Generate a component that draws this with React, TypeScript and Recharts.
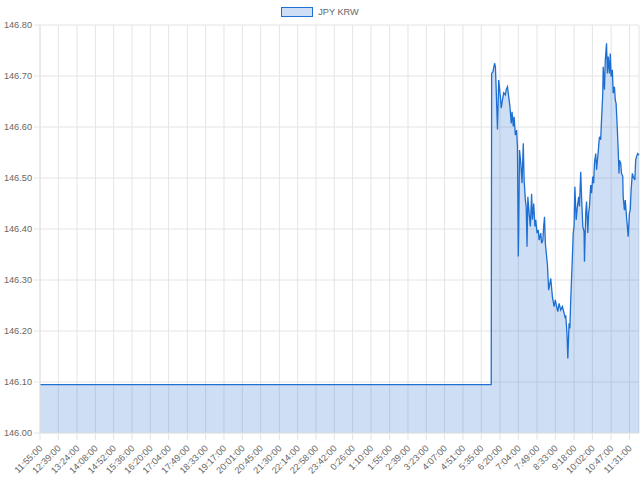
import { AreaChart, Area, XAxis, YAxis, CartesianGrid, Legend } from "recharts";

// minutes after 11:55:00, and the JPY/KRW rate at each of them
const minutes = [
  0, 1084, 1085, 1088, 1092, 1094, 1096, 1099, 1102, 1106, 1108, 1111, 1114, 1118, 1120, 1123, 1126, 1129,
  1132, 1134, 1137, 1139, 1142, 1145, 1147, 1149, 1150, 1152, 1155, 1158, 1161, 1163, 1166, 1168, 1170, 1172,
  1175, 1178, 1181, 1183, 1186, 1189, 1191, 1194, 1197, 1199, 1203, 1205, 1208, 1210, 1212, 1214, 1219, 1222,
  1227, 1231, 1235, 1238, 1241, 1244, 1247, 1251, 1255, 1259, 1262, 1263, 1266, 1268, 1271, 1273, 1275, 1279,
  1281, 1283, 1285, 1288, 1291, 1294, 1296, 1299, 1301, 1304, 1307, 1308, 1311, 1313, 1316, 1318, 1320, 1323,
  1325, 1328, 1330, 1332, 1335, 1337, 1340, 1342, 1344, 1347, 1349, 1352, 1353, 1356, 1358, 1361, 1363, 1365,
  1368, 1370, 1372, 1375, 1377, 1380, 1382, 1384, 1387, 1389, 1391, 1392, 1395, 1397, 1400, 1401, 1404, 1406,
  1409, 1411, 1413, 1416, 1418, 1420, 1423, 1425, 1429, 1431, 1433, 1436, 1439,
];
const rates = [
  146.095, 146.095, 146.705, 146.708, 146.725, 146.718, 146.672, 146.595, 146.692, 146.659, 146.637, 146.653,
  146.667, 146.663, 146.673, 146.679, 146.659, 146.64, 146.607, 146.63, 146.601, 146.62, 146.584, 146.594,
  146.561, 146.346, 146.395, 146.555, 146.529, 146.49, 146.568, 146.496, 146.457, 146.444, 146.365, 146.463,
  146.431, 146.405, 146.469, 146.418, 146.45, 146.405, 146.418, 146.392, 146.398, 146.378, 146.392, 146.372,
  146.378, 146.405, 146.424, 146.372, 146.33, 146.28, 146.303, 146.267, 146.248, 146.261, 146.248, 146.238,
  146.254, 146.241, 146.248, 146.235, 146.225, 146.231, 146.195, 146.146, 146.215, 146.205, 146.261, 146.346,
  146.392, 146.405, 146.483, 146.418, 146.444, 146.463, 146.444, 146.512, 146.463, 146.405, 146.395, 146.336,
  146.431, 146.454, 146.392, 146.431, 146.444, 146.486, 146.47, 146.503, 146.49, 146.529, 146.548, 146.516,
  146.542, 146.561, 146.581, 146.575, 146.614, 146.666, 146.718, 146.673, 146.731, 146.764, 146.705, 146.738,
  146.705, 146.744, 146.699, 146.712, 146.666, 146.679, 146.653, 146.646, 146.594, 146.555, 146.509, 146.535,
  146.529, 146.509, 146.503, 146.463, 146.437, 146.457, 146.424, 146.405, 146.385, 146.431, 146.437, 146.476,
  146.509, 146.503, 146.496, 146.535, 146.542, 146.548, 146.545,
];

const tickMinutes = [
  0, 44, 89, 133, 177, 221, 265, 309, 354, 398, 442, 486, 530, 575, 619, 663, 707, 751, 795, 840, 884, 928,
  972, 1016, 1060, 1105, 1149, 1194, 1238, 1283, 1327, 1372, 1416,
];
const tickLabels = [
  "11:55:00", "12:39:00", "13:24:00", "14:08:00", "14:52:00", "15:36:00", "16:20:00", "17:04:00", "17:49:00",
  "18:33:00", "19:17:00", "20:01:00", "20:45:00", "21:30:00", "22:14:00", "22:58:00", "23:42:00", "0:26:00",
  "1:10:00", "1:55:00", "2:39:00", "3:23:00", "4:07:00", "4:51:00", "5:35:00", "6:20:00", "7:04:00", "7:49:00",
  "8:33:00", "9:18:00", "10:02:00", "10:47:00", "11:31:00",
];
const rateTicks = [146.0, 146.1, 146.2, 146.3, 146.4, 146.5, 146.6, 146.7, 146.8];

const seriesName = "JPY KRW";
const lineColor = "#1e6fd2";
const font = "'Liberation Sans', Arial, sans-serif";
const gridColor = "#e4e4e4";

const data = minutes.map((m, i) => ({ m, rate: rates[i] }));

function TimeTick({ x, y, payload }: any) {
  const i = tickMinutes.indexOf(payload.value);
  return (
    <text
      transform={`translate(${x + 3},${y + 9}) rotate(-45)`}
      textAnchor="end"
      fontSize={9.2}
      fontFamily={font}
      fill="#666"
    >
      {tickLabels[i]}
    </text>
  );
}

function LegendBox() {
  return (
    <div style={{ display: "flex", justifyContent: "center", alignItems: "center", fontFamily: font, fontSize: 9.2, color: "#666" }}>
      <span
        style={{
          display: "inline-block",
          width: 30,
          height: 8,
          border: `1px solid ${lineColor}`,
          background: "rgba(30,111,210,0.22)",
          marginRight: 5,
        }}
      />
      <span>{seriesName}</span>
    </div>
  );
}

export default function App() {
  return (
    <div style={{ position: "absolute", left: 0, top: 0, width: 640, height: 480, background: "#fff" }}>
      <AreaChart width={640} height={480} data={data} margin={{ top: 25, right: 1, bottom: 0, left: 0 }}>
        <CartesianGrid stroke={gridColor} />
        <XAxis
          dataKey="m"
          type="number"
          domain={[0, 1439]}
          ticks={tickMinutes}
          interval={0}
          height={47}
          tickSize={7}
          tickMargin={0}
          tick={<TimeTick />}
          axisLine={{ stroke: gridColor }}
          tickLine={{ stroke: gridColor }}
        />
        <YAxis
          type="number"
          domain={[146, 146.8]}
          ticks={rateTicks}
          interval={0}
          width={40}
          tickSize={6}
          tickMargin={2}
          tickFormatter={(v: number) => v.toFixed(2)}
          tick={{ fontSize: 9.2, fontFamily: font, fill: "#666" }}
          axisLine={{ stroke: gridColor }}
          tickLine={{ stroke: gridColor }}
        />
        <Legend
          verticalAlign="middle"
          align="center"
          content={() => <LegendBox />}
          wrapperStyle={{ top: 7, left: 0, width: 640 }}
        />
        <Area
          type="linear"
          dataKey="rate"
          name={seriesName}
          stroke={lineColor}
          strokeWidth={1.3}
          fill={lineColor}
          fillOpacity={0.22}
          baseValue={146}
          dot={false}
          activeDot={false}
          isAnimationActive={false}
        />
      </AreaChart>
    </div>
  );
}
